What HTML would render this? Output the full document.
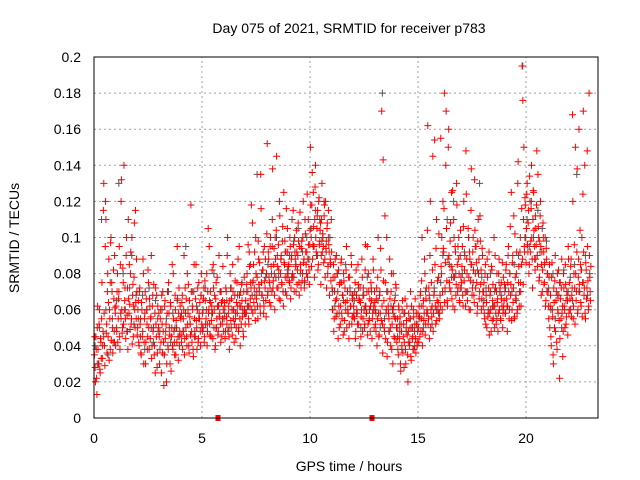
<!DOCTYPE html>
<html><head><meta charset="utf-8"><style>
body{margin:0;background:#fff}
svg{display:block;font-family:"Liberation Sans",sans-serif}
</style></head><body>
<svg id="chart" width="640" height="480" viewBox="0 0 640 480">
<text x="349" y="33" font-size="14" text-anchor="middle">Day 075 of 2021, SRMTID for receiver p783</text>
<text transform="translate(19,238) rotate(-90)" font-size="14" text-anchor="middle">SRMTID / TECUs</text>
<text x="349" y="471" font-size="14" text-anchor="middle">GPS time / hours</text>
<g id="grid"></g>
<g id="ticks"></g>
<g id="marks"></g>
<rect x="94" y="57" width="504" height="361" fill="none" stroke="#000" stroke-width="1"/>
</svg>
<script>
const xTicks=[0,5,10,15,20];
const yTicks=[0,0.02,0.04,0.06,0.08,0.1,0.12,0.14,0.16,0.18,0.2];
const yTickLabels=["0","0.02","0.04","0.06","0.08","0.1","0.12","0.14","0.16","0.18","0.2"];
const redStep=1/30;
const redMilli=[
35,28,45,22,50,38,30,60,25,42,55,33,48,130,40,95,110,52,70,45,88,60,38,100,75,50,42,66,90,58,
62,48,80,55,70,45,85,120,60,50,75,140,65,55,90,48,72,110,58,63,80,52,100,68,45,78,60,115,55,70,
50,65,40,72,55,35,60,48,80,42,58,30,66,52,45,75,38,62,55,90,40,68,50,35,58,72,45,28,62,50,
45,38,60,25,52,70,42,35,65,48,20,58,40,75,50,30,62,45,85,38,55,42,68,35,50,95,45,58,40,62,
55,42,68,48,60,35,72,50,45,80,58,40,65,52,118,48,62,38,70,55,45,85,50,60,42,75,55,48,68,52,
58,50,72,45,65,55,80,48,105,60,52,70,45,62,58,85,50,68,40,75,55,62,48,90,58,52,70,45,65,60,
55,62,48,70,52,100,58,45,65,72,50,60,85,55,42,68,58,50,75,62,48,95,55,70,52,65,60,45,78,58,
65,58,80,70,55,92,62,75,118,68,58,85,72,60,100,66,78,55,88,70,62,135,75,68,82,58,95,72,65,80,
152,70,88,75,95,62,80,110,72,85,68,100,78,145,90,72,82,120,65,88,75,98,70,125,85,78,92,68,105,80,
85,75,95,72,90,80,115,78,100,88,70,92,82,108,75,95,85,72,98,80,120,88,76,102,85,92,78,110,82,96,
150,100,118,88,125,95,110,140,92,105,115,85,122,98,108,90,130,102,95,112,88,120,98,105,80,115,92,100,86,110,
72,60,85,55,78,65,90,58,70,82,50,75,62,88,55,68,80,48,72,60,95,65,58,78,52,70,62,85,56,68,
62,55,75,48,68,58,85,52,65,72,45,60,78,55,68,50,82,62,58,95,52,70,60,48,75,65,55,88,62,70,
60,48,72,55,100,45,68,58,82,170,52,143,65,48,75,58,100,42,62,55,88,50,70,38,60,80,45,65,55,72,
42,55,35,60,48,30,52,40,65,45,28,58,38,50,62,35,48,55,42,70,32,50,45,60,38,52,44,58,40,48,
50,62,45,70,55,100,48,65,58,80,52,72,60,162,55,68,90,50,75,62,145,58,70,85,52,110,65,60,78,55,
68,155,80,60,120,92,180,72,140,105,65,88,160,75,98,70,125,82,62,110,78,95,68,130,85,72,100,65,90,78,
75,95,62,120,82,70,148,88,65,105,78,92,60,115,85,72,100,68,132,80,95,75,62,110,88,70,98,82,66,90,
62,75,55,85,68,50,78,60,92,58,70,48,82,65,55,100,62,72,52,80,66,58,88,70,55,75,62,50,78,65,
70,58,85,62,75,95,55,80,68,125,60,90,72,55,102,66,80,58,130,75,62,92,70,85,195,176,110,95,122,100,
105,130,92,115,85,120,98,140,88,110,125,95,82,105,118,90,135,100,78,112,95,85,70,108,92,75,100,65,88,80,
70,55,85,62,45,78,60,35,72,50,90,65,42,80,58,68,22,75,55,88,62,48,72,60,85,52,70,65,95,58,
75,60,88,68,168,55,80,72,150,65,92,58,78,160,70,85,62,100,75,170,68,140,55,82,72,95,60,180,78,65];
const redMilliB=[
45,20,38,13,62,30,52,27,44,33,75,40,115,58,29,120,47,36,80,64,32,55,97,43,70,36,82,48,61,40,
50,70,42,66,95,38,58,132,47,83,52,60,72,44,100,57,38,66,85,49,92,55,41,74,62,108,50,64,88,46,
60,42,70,52,36,64,45,88,30,55,70,42,60,38,82,50,66,44,56,33,62,48,74,40,25,52,68,36,48,58,
30,55,42,68,36,48,18,62,44,52,30,70,38,58,46,64,26,50,40,80,48,35,60,54,42,66,32,72,48,56,
46,64,38,55,90,44,58,66,40,52,74,36,56,46,70,42,60,34,85,48,66,54,38,72,44,58,64,40,80,50,
48,66,42,76,52,60,40,70,58,95,46,64,54,82,44,72,60,38,66,50,78,46,62,56,70,42,64,52,84,48,
64,44,72,56,90,48,62,38,80,54,66,46,70,60,52,76,44,64,58,88,50,68,40,62,74,56,48,70,60,52,
58,74,62,96,52,84,66,72,60,108,76,64,92,54,80,70,62,98,74,86,58,116,68,82,92,62,76,88,56,102,
68,92,78,64,100,84,70,138,76,94,60,88,104,72,84,96,66,112,80,90,74,106,62,86,98,70,116,78,92,84,
76,100,66,88,110,78,96,70,92,84,104,74,90,98,68,114,82,94,76,100,86,72,110,92,80,124,88,96,74,104,
118,84,136,96,106,78,128,100,90,112,82,120,96,104,74,110,92,100,86,118,78,94,72,108,84,96,68,88,76,92,
60,78,48,70,88,56,66,80,44,62,74,52,86,58,68,46,76,54,64,82,50,70,58,44,78,62,90,52,66,56,
58,70,44,82,60,52,74,66,40,64,56,88,48,72,60,52,96,58,70,46,80,54,66,62,72,44,58,82,50,64,
52,66,40,78,58,46,70,94,54,62,36,76,50,112,44,60,34,70,58,48,66,40,80,52,30,62,56,44,74,50,
50,38,62,44,56,26,48,60,36,52,42,66,30,54,46,20,58,40,50,34,62,44,38,56,48,66,36,52,42,58,
42,56,68,48,76,40,62,54,88,46,66,58,104,52,72,44,120,60,56,82,48,68,154,62,94,54,76,64,102,58,
62,84,100,70,94,116,64,86,170,76,62,150,90,72,108,84,66,126,78,100,60,92,74,118,70,88,80,64,104,72,
84,68,106,76,90,62,124,80,70,100,60,88,76,138,68,92,82,64,104,72,86,58,98,80,66,112,74,60,94,70,
70,58,80,52,64,88,56,72,46,68,60,84,54,74,62,50,90,58,70,64,48,80,60,72,54,66,86,58,62,74,
58,82,66,48,90,70,60,106,74,54,86,64,112,56,78,68,92,60,142,84,70,100,62,116,88,74,150,92,118,86,
124,96,108,80,134,92,116,100,72,126,104,88,112,96,148,84,106,76,98,120,68,92,82,100,74,86,62,94,70,80,
62,78,50,68,40,86,56,30,64,76,48,70,38,60,82,54,44,66,72,58,34,80,62,50,74,56,68,46,88,60,
66,84,56,72,120,62,96,52,80,70,138,60,88,74,104,64,82,56,124,92,72,58,86,66,148,76,62,90,70,84];
const grayStep=0.1;
const grayMilli=[
40,30,50,110,45,60,35,75,55,42, 65,130,55,80,60,48,72,90,52,68, 55,45,68,38,60,72,50,42,65,55,
48,60,35,55,70,42,58,50,65,45, 58,48,95,60,52,70,45,62,55,68, 60,72,52,65,58,80,50,62,70,55,
58,65,50,72,60,55,68,62,75,58, 70,62,85,75,68,135,72,80,65,78, 85,72,95,80,100,78,88,70,92,82,
90,78,98,85,105,80,92,75,100,88, 105,95,115,90,110,98,120,92,100,85, 70,62,80,58,75,65,85,60,72,68,
65,58,72,50,68,62,78,55,70,60, 58,65,50,180,55,70,48,62,58,68, 45,52,38,58,48,42,55,50,40,52,
55,62,50,70,58,65,52,72,60,58, 75,90,70,110,85,78,120,80,95,72, 80,92,70,100,85,75,95,82,130,78,
65,72,58,80,62,70,55,75,68,60, 72,62,80,70,85,65,90,75,195,100, 110,95,120,100,88,115,92,105,85,98,
72,60,80,55,68,75,50,82,65,70, 78,65,85,135,70,82,75,90,68,80];
const zeroTimes=[5.74,12.87];

const X0=94,X1=598,Y0=418,Y1=57,XMAX=23.333,YMAX=0.2;
const sx=t=>X0+(X1-X0)*t/XMAX;
const sy=v=>Y0-(Y0-Y1)*v/YMAX;
const NS="http://www.w3.org/2000/svg";
function mk(tag,attrs,parent){const e=document.createElementNS(NS,tag);for(const k in attrs)e.setAttribute(k,attrs[k]);parent.appendChild(e);return e;}
const grid=document.getElementById('grid'),ticks=document.getElementById('ticks'),marks=document.getElementById('marks');
xTicks.forEach(t=>{
  const x=sx(t);
  if(t>0){const g=mk('line',{x1:x,y1:Y0,x2:x,y2:Y1,stroke:'#a0a0a0','stroke-dasharray':'2,3'},grid);
  
  }
  const tl=mk('text',{x:x,y:443,'font-size':14,'text-anchor':'middle'},ticks);tl.textContent=t;
  
  
});
yTicks.forEach((v,i)=>{
  const y=sy(v);
  if(i>0&&i<yTicks.length-1){const g=mk('line',{x1:X0,y1:y,x2:X1,y2:y,stroke:'#a0a0a0','stroke-dasharray':'2,3'},grid);
  
  }
  const tl=mk('text',{x:81,y:y+5,'font-size':14,'text-anchor':'end'},ticks);tl.textContent=yTickLabels[i];
  
  
});
function plus(t,v,color,name){
  const x=sx(t),y=sy(v);
  const p=mk('path',{d:`M${x-3.5} ${y}H${x+3.5}M${x} ${y-3.5}V${y+3.5}`,stroke:color,'stroke-width':1,fill:'none'},marks);
  
  
}
grayMilli.forEach((m,i)=>plus(i*grayStep+0.05,m/1000,'#555555','gray-point'));
redMilli.forEach((m,i)=>plus(i*redStep+0.02,m/1000,'#ff0000','red-point'));
redMilliB.forEach((m,i)=>plus(i*redStep+0.035,m/1000,'#ff0000','red-point'));
zeroTimes.forEach(t=>{
  const r=mk('rect',{x:sx(t)-2.5,y:Y0-3,width:5,height:6,fill:'#ff0000'},marks);
  
  
});
</script>
</body></html>
